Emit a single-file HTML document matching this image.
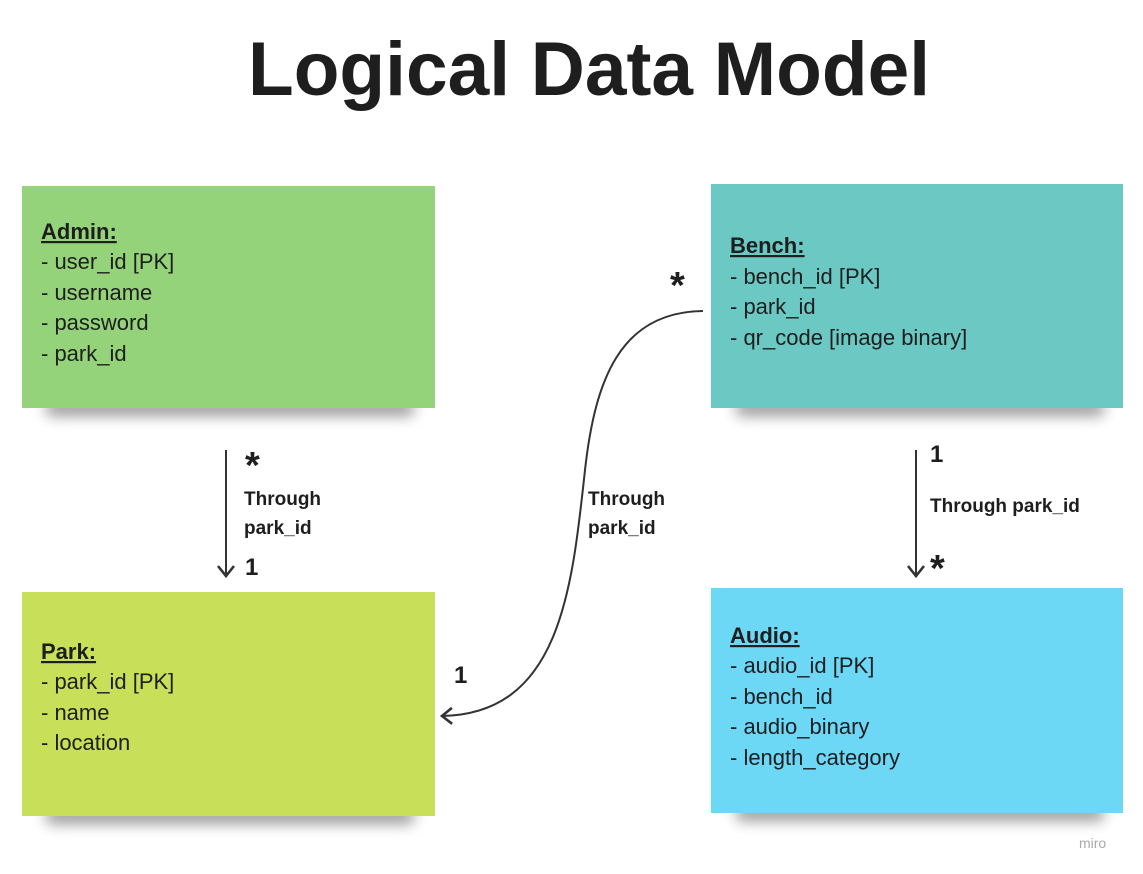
<!DOCTYPE html>
<html><head><meta charset="utf-8"><style>
html,body{margin:0;padding:0;background:#fff;}
svg{display:block;}
text{font-family:"Liberation Sans",sans-serif;fill:#1e1e1e;}
</style></head><body>
<svg width="1143" height="874" viewBox="0 0 1143 874" xmlns="http://www.w3.org/2000/svg">
<defs>
<filter id="sh" x="-20%" y="-200%" width="140%" height="500%"><feGaussianBlur stdDeviation="7"/></filter>
<marker id="ar" markerWidth="20" markerHeight="20" refX="12" refY="10" orient="auto" markerUnits="userSpaceOnUse">
<path d="M2,2 L12,10 L2,18" fill="none" stroke="#333" stroke-width="2.6"/></marker>
</defs>
<text x="589" y="95" font-size="76" font-weight="bold" text-anchor="middle" textLength="682" lengthAdjust="spacingAndGlyphs">Logical Data Model</text>

<!-- shadows -->
<rect x="45" y="400" width="370" height="16" rx="8" fill="#000" opacity="0.4" filter="url(#sh)"/>
<rect x="45" y="808" width="370" height="16" rx="8" fill="#000" opacity="0.4" filter="url(#sh)"/>
<rect x="735" y="400" width="370" height="16" rx="8" fill="#000" opacity="0.4" filter="url(#sh)"/>
<rect x="735" y="805" width="370" height="16" rx="8" fill="#000" opacity="0.4" filter="url(#sh)"/>

<rect x="22" y="186" width="413" height="222" fill="#95d37b"/>
<rect x="22" y="592" width="413" height="224" fill="#c8df5a"/>
<rect x="711" y="184" width="412" height="224" fill="#6bc8c3"/>
<rect x="711" y="588" width="412" height="225" fill="#6dd7f6"/>

<g font-size="22">
<text x="41" y="239" font-weight="bold" text-decoration="underline">Admin:</text>
<text x="41" y="269">- user_id [PK]</text>
<text x="41" y="300">- username</text>
<text x="41" y="330">- password</text>
<text x="41" y="361">- park_id</text>

<text x="41" y="659" font-weight="bold" text-decoration="underline">Park:</text>
<text x="41" y="689">- park_id [PK]</text>
<text x="41" y="720">- name</text>
<text x="41" y="750">- location</text>

<text x="730" y="253" font-weight="bold" text-decoration="underline">Bench:</text>
<text x="730" y="284">- bench_id [PK]</text>
<text x="730" y="314">- park_id</text>
<text x="730" y="345">- qr_code [image binary]</text>

<text x="730" y="643" font-weight="bold" text-decoration="underline">Audio:</text>
<text x="730" y="673">- audio_id [PK]</text>
<text x="730" y="704">- bench_id</text>
<text x="730" y="734">- audio_binary</text>
<text x="730" y="765">- length_category</text>
</g>

<!-- connectors -->
<line x1="226" y1="450" x2="226" y2="576" stroke="#333" stroke-width="2" marker-end="url(#ar)"/>
<line x1="916" y1="450" x2="916" y2="576" stroke="#333" stroke-width="2" marker-end="url(#ar)"/>
<path d="M703,311 C620,312 595,380 585,470 C572,590 560,714 442,716" fill="none" stroke="#333" stroke-width="2" marker-end="url(#ar)"/>

<g font-weight="bold">
<text x="245" y="478" font-size="38">*</text>
<text x="244" y="505" font-size="19">Through</text>
<text x="244" y="534" font-size="19">park_id</text>
<text x="245" y="575" font-size="24">1</text>

<text x="670" y="298" font-size="38">*</text>
<text x="588" y="505" font-size="19">Through</text>
<text x="588" y="534" font-size="19">park_id</text>
<text x="454" y="683" font-size="24">1</text>

<text x="930" y="462" font-size="24">1</text>
<text x="930" y="512" font-size="19">Through park_id</text>
<text x="930" y="581" font-size="38">*</text>
</g>
<text x="1079" y="848" font-size="14" style="fill:#aaa">miro</text>
</svg>
</body></html>
